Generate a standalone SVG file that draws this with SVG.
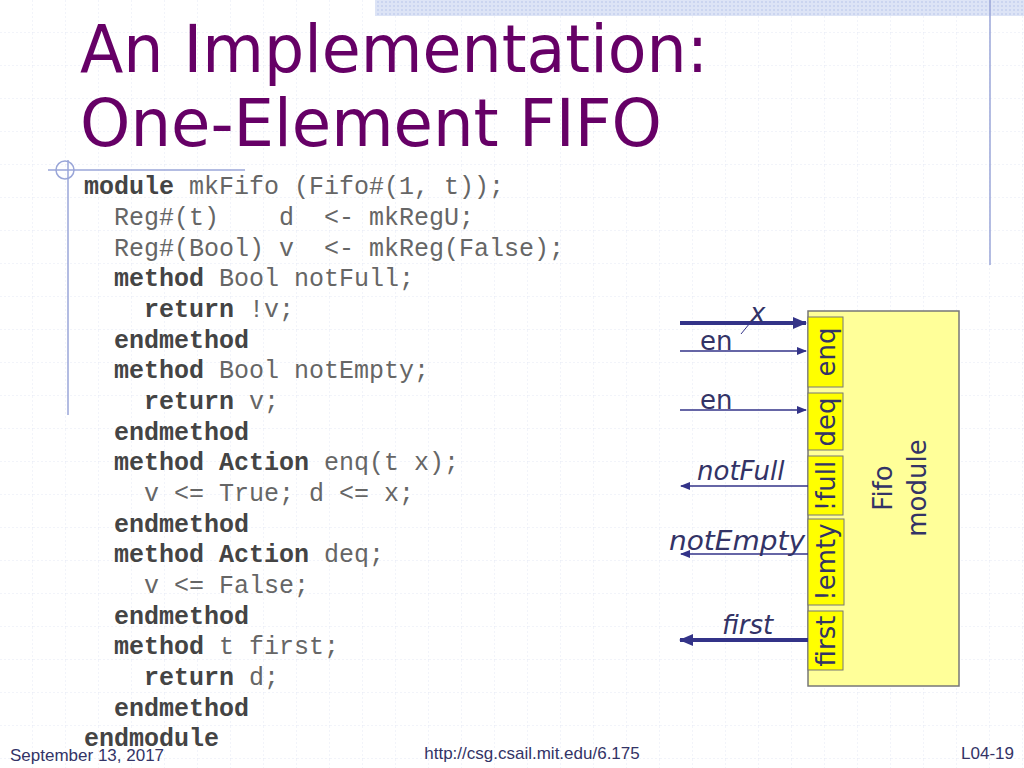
<svg xmlns="http://www.w3.org/2000/svg" width="1024" height="768" viewBox="0 0 1024 768">
<style>
.code{font-family:"Liberation Mono",monospace;font-size:25px;fill:#666}
.kw{font-weight:bold;fill:#444}
.port{font-family:"DejaVu Sans",sans-serif;font-size:26px;fill:#333366}
.lab{font-family:"DejaVu Sans",sans-serif;font-size:26px;fill:#333366}
.foot{font-family:"Liberation Sans",sans-serif;font-size:17px;fill:#333366}
</style>
<defs>
<pattern id="grid" width="33" height="33" patternUnits="userSpaceOnUse">
<path d="M33 0V33M0 33H33" stroke="#e4e8f4" stroke-width="1" stroke-dasharray="2,2" fill="none"/>
</pattern>
<pattern id="band" width="4" height="4" patternUnits="userSpaceOnUse">
<rect width="4" height="4" fill="#dde4f6"/><circle cx="2" cy="2" r="1" fill="#c6d0ee"/>
</pattern>
<marker id="ah" markerWidth="10" markerHeight="8" refX="9" refY="4" orient="auto" markerUnits="userSpaceOnUse">
<path d="M0,0L10,4L0,8z" fill="#333388"/>
</marker>
<marker id="ahb" markerWidth="14" markerHeight="12" refX="13" refY="6" orient="auto" markerUnits="userSpaceOnUse">
<path d="M0,0L14,6L0,12z" fill="#333388"/>
</marker>
</defs>
<rect width="1024" height="768" fill="#fff"/>
<rect width="1024" height="768" fill="url(#grid)"/>
<rect x="375" y="0" width="649" height="16" fill="url(#band)"/>
<line x1="990" y1="0" x2="990" y2="265" stroke="#9aa6d8" stroke-width="1.5"/>
<line x1="68" y1="160" x2="68" y2="415" stroke="#9aa6d8" stroke-width="1.5"/>
<line x1="48" y1="170" x2="245" y2="170" stroke="#9aa6d8" stroke-width="1.5"/>
<circle cx="65" cy="170" r="9" fill="none" stroke="#9aa6d8" stroke-width="1.5"/>
<g id="title" font-family="DejaVu Sans Condensed,DejaVu Sans,sans-serif" font-size="66" fill="#660066">
<text x="80" y="72" textLength="628" lengthAdjust="spacingAndGlyphs">An Implementation:</text>
<text x="80" y="146" textLength="582" lengthAdjust="spacingAndGlyphs">One-Element FIFO</text>
</g>
<g id="code" class="code">
<text x="84" y="194"><tspan class="kw">module</tspan> mkFifo (Fifo#(1, t));</text>
<text x="84" y="225">&#160;&#160;Reg#(t)&#160;&#160;&#160;&#160;d&#160;&#160;&lt;- mkRegU;</text>
<text x="84" y="256">&#160;&#160;Reg#(Bool) v&#160;&#160;&lt;- mkReg(False);</text>
<text x="84" y="286">&#160;&#160;<tspan class="kw">method</tspan> Bool notFull;</text>
<text x="84" y="317">&#160;&#160;&#160;&#160;<tspan class="kw">return</tspan> !v;</text>
<text x="84" y="348">&#160;&#160;<tspan class="kw">endmethod</tspan></text>
<text x="84" y="378">&#160;&#160;<tspan class="kw">method</tspan> Bool notEmpty;</text>
<text x="84" y="409">&#160;&#160;&#160;&#160;<tspan class="kw">return</tspan> v;</text>
<text x="84" y="440">&#160;&#160;<tspan class="kw">endmethod</tspan></text>
<text x="84" y="470">&#160;&#160;<tspan class="kw">method</tspan> <tspan class="kw">Action</tspan> enq(t x);</text>
<text x="84" y="501">&#160;&#160;&#160;&#160;v &lt;= True; d &lt;= x;</text>
<text x="84" y="532">&#160;&#160;<tspan class="kw">endmethod</tspan></text>
<text x="84" y="562">&#160;&#160;<tspan class="kw">method</tspan> <tspan class="kw">Action</tspan> deq;</text>
<text x="84" y="593">&#160;&#160;&#160;&#160;v &lt;= False;</text>
<text x="84" y="624">&#160;&#160;<tspan class="kw">endmethod</tspan></text>
<text x="84" y="654">&#160;&#160;<tspan class="kw">method</tspan> t first;</text>
<text x="84" y="685">&#160;&#160;&#160;&#160;<tspan class="kw">return</tspan> d;</text>
<text x="84" y="716">&#160;&#160;<tspan class="kw">endmethod</tspan></text>
<text x="84" y="746"><tspan class="kw">endmodule</tspan></text>
</g>
<g id="fifo">
<rect x="808" y="311" width="151" height="375" fill="#ffff99" stroke="#777" stroke-width="1.5"/>
<text class="port" transform="translate(892,488) rotate(-90)" text-anchor="middle">Fifo</text>
<text class="port" transform="translate(926,488) rotate(-90)" text-anchor="middle">module</text>
</g>
<g id="enq"><rect x="808" y="317" width="35" height="70" fill="#ffff00" stroke="#777"/><text class="port" transform="translate(835,352) rotate(-90)" text-anchor="middle">enq</text></g>
<g id="deq"><rect x="808" y="393" width="35" height="57" fill="#ffff00" stroke="#777"/><text class="port" transform="translate(835,422) rotate(-90)" text-anchor="middle">deq</text></g>
<g id="full"><rect x="808" y="456" width="35" height="59" fill="#ffff00" stroke="#777"/><text class="port" transform="translate(835,486) rotate(-90)" text-anchor="middle">!full</text></g>
<g id="emty"><rect x="808" y="519" width="36" height="86" fill="#ffff00" stroke="#777"/><text class="port" transform="translate(835,562) rotate(-90)" text-anchor="middle">!emty</text></g>
<g id="first"><rect x="808" y="611" width="35" height="59" fill="#ffff00" stroke="#777"/><text class="port" transform="translate(835,641) rotate(-90)" text-anchor="middle">first</text></g>
<g id="connectors" stroke="#333388" fill="none">
<line x1="680" y1="323" x2="806" y2="323" stroke-width="4" marker-end="url(#ahb)"/>
<line x1="741" y1="334" x2="759" y2="312" stroke-width="1"/>
<line x1="680" y1="351" x2="806" y2="351" stroke-width="1.5" marker-end="url(#ah)"/>
<line x1="680" y1="410" x2="806" y2="410" stroke-width="1.5" marker-end="url(#ah)"/>
<line x1="808" y1="486" x2="681" y2="486" stroke-width="1.5" marker-end="url(#ah)"/>
<line x1="808" y1="554" x2="681" y2="554" stroke-width="1.5" marker-end="url(#ah)"/>
<line x1="808" y1="640" x2="680" y2="640" stroke-width="4" marker-end="url(#ahb)"/>
</g>
<g id="labels" class="lab">
<text x="750" y="322" font-style="italic">x</text>
<text x="700" y="350">en</text>
<text x="700" y="409">en</text>
<text x="697" y="480" font-style="italic">notFull</text>
<text x="669" y="550" font-style="italic" textLength="136" lengthAdjust="spacingAndGlyphs">notEmpty</text>
<text x="722" y="634" font-style="italic">first</text>
</g>
<g id="footer" class="foot">
<text x="10" y="761">September 13, 2017</text>
<text x="532" y="759" text-anchor="middle">http://csg.csail.mit.edu/6.175</text>
<text x="1014" y="759" text-anchor="end">L04-19</text>
</g>
</svg>
